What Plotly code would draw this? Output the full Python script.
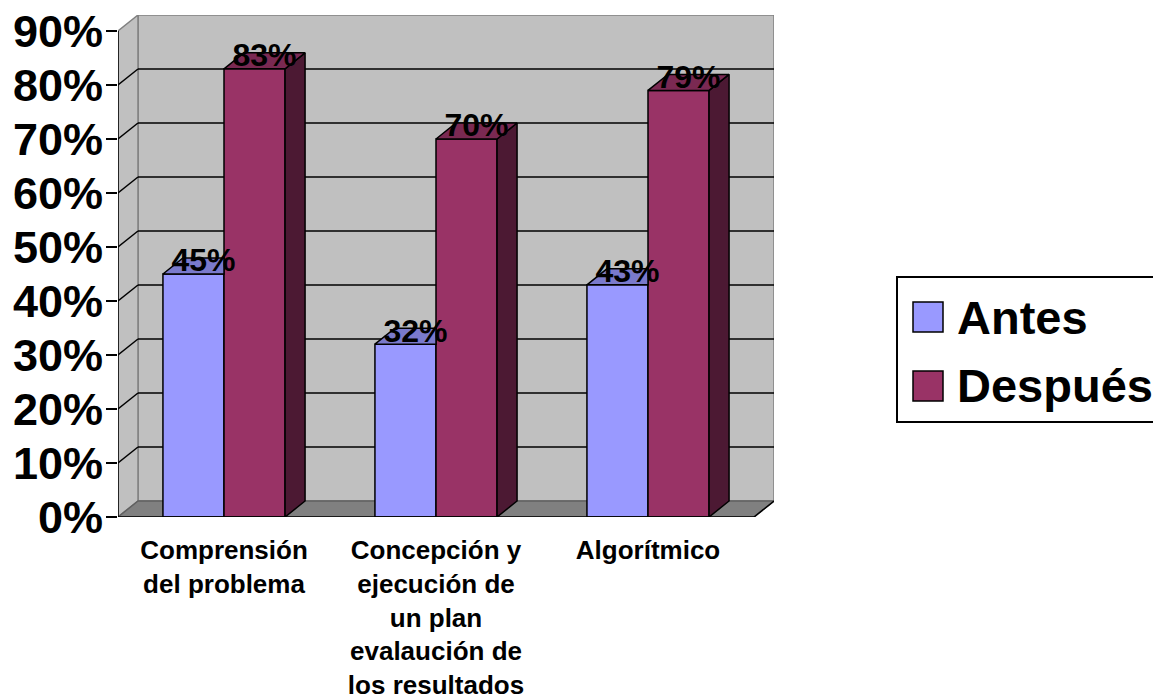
import plotly.graph_objects as go

categories = ["Comprensión<br>del problema",
              "Concepción y<br>ejecución de<br>un plan<br>evalaución de<br>los resultados",
              "Algorítmico"]
antes = [45, 32, 43]
despues = [83, 70, 79]
antes_labels = ["45%", "32%", "43%"]
despues_labels = ["83%", "70%", "79%"]
y_ticks = [0, 10, 20, 30, 40, 50, 60, 70, 80, 90]
y_ticktext = [f"{v}%" for v in y_ticks]

C_ANTES = "#9999FF"
C_ANTES_TOP = "#7A7ACC"
C_DESP = "#993366"
C_DESP_TOP = "#7A2952"
C_DESP_SIDE = "#4C1933"
WALL = "#C0C0C0"
FLOOR = "#808080"
FONT = "Arial, Liberation Sans, sans-serif"

# geometry (pixel layout)
W, H = 1153, 700
PX_CAT = 212.0          # pixels per category
PX_PCT = 5.4            # pixels per percent
DEPTH_X, DEPTH_Y = 20, 16
DX = DEPTH_X / PX_CAT
DY = DEPTH_Y / PX_PCT
YMAX = 90
L = 118
plot_w = (3 + DX) * PX_CAT
plot_h = (YMAX + DY) * PX_PCT
B = 183
R = W - L - plot_w
T = H - B - plot_h

BARGAP = 0.424
BW = (1 - BARGAP) / 2
n = len(categories)
xs = list(range(n))

fig = go.Figure()

fig.add_trace(go.Bar(x=xs, y=antes, name="Antes", marker=dict(color=C_ANTES, line=dict(color="black", width=1.5)),
                     showlegend=False, hoverinfo="skip"))
fig.add_trace(go.Bar(x=xs, y=despues, name="Después", marker=dict(color=C_DESP, line=dict(color="black", width=1.5)),
                     showlegend=False, hoverinfo="skip"))


def poly_trace(polys, color):
    px, py = [], []
    for p in polys:
        for (a, b) in p + [p[0]]:
            px.append(a)
            py.append(b)
        px.append(None)
        py.append(None)
    return go.Scatter(x=px, y=py, mode="lines", fill="toself", fillcolor=color,
                      line=dict(color="black", width=1.5), showlegend=False, hoverinfo="skip")


# Antes tops (clipped where Después bar front occludes)
a_tops = []
for i, v in enumerate(antes):
    x0 = i - BW
    x1 = i
    a_tops.append([(x0, v), (x1, v), (x1, v + DY), (x0 + DX, v + DY)])
fig.add_trace(poly_trace(a_tops, C_ANTES_TOP))

# Después tops & sides
d_tops, d_sides = [], []
for i, v in enumerate(despues):
    x0 = i
    x1 = i + BW
    d_tops.append([(x0, v), (x1, v), (x1 + DX, v + DY), (x0 + DX, v + DY)])
    d_sides.append([(x1, 0), (x1 + DX, DY), (x1 + DX, v + DY), (x1, v)])
fig.add_trace(poly_trace(d_sides, C_DESP_SIDE))
fig.add_trace(poly_trace(d_tops, C_DESP_TOP))

# data labels
lab_font = dict(family=FONT, size=32, color="black", weight="bold")
LAB_DY = DY - 1.0
fig.add_trace(go.Scatter(x=[i - BW / 2 + DX / 2 for i in xs], y=[v + LAB_DY for v in antes],
                         text=antes_labels, mode="text", textposition="middle center",
                         textfont=lab_font, showlegend=False, hoverinfo="skip", cliponaxis=False))
fig.add_trace(go.Scatter(x=[i + BW / 2 + DX / 2 for i in xs], y=[v + LAB_DY for v in despues],
                         text=despues_labels, mode="text", textposition="middle center",
                         textfont=lab_font, showlegend=False, hoverinfo="skip", cliponaxis=False))

shapes = []
xl, xr = -0.5, n - 0.5
# back wall
shapes.append(dict(type="rect", xref="x", yref="y", x0=xl + DX, x1=xr + DX, y0=DY, y1=YMAX + DY,
                   fillcolor=WALL, line=dict(color="#808080", width=1.5), layer="below"))
# left side wall
shapes.append(dict(type="path", xref="x", yref="y",
                   path=f"M{xl},0 L{xl+DX},{DY} L{xl+DX},{YMAX+DY} L{xl},{YMAX} Z",
                   fillcolor=WALL, line=dict(color="#808080", width=1.5), layer="below"))
# floor
shapes.append(dict(type="path", xref="x", yref="y",
                   path=f"M{xl},0 L{xr},0 L{xr+DX},{DY} L{xl+DX},{DY} Z",
                   fillcolor=FLOOR, line=dict(color="#606060", width=1.5), layer="below"))
# gridlines on back wall and side wall
for v in y_ticks[1:-1]:
    shapes.append(dict(type="line", xref="x", yref="y", x0=xl + DX, x1=xr + DX, y0=v + DY, y1=v + DY,
                       line=dict(color="black", width=1.5), layer="below"))
    shapes.append(dict(type="line", xref="x", yref="y", x0=xl, x1=xl + DX, y0=v, y1=v + DY,
                       line=dict(color="black", width=1.5), layer="below"))
# front axes
shapes.append(dict(type="line", xref="x", yref="y", x0=xl, x1=xl, y0=0, y1=YMAX,
                   line=dict(color="black", width=1.5), layer="above"))
shapes.append(dict(type="line", xref="x", yref="y", x0=xl, x1=xr, y0=0, y1=0,
                   line=dict(color="black", width=1.5), layer="above"))
shapes.append(dict(type="line", xref="x", yref="y", x0=xr, x1=xr + DX, y0=0, y1=DY,
                   line=dict(color="black", width=1.5), layer="above"))
# category boundary ticks
for k in range(n + 1):
    shapes.append(dict(type="line", xref="x", yref="y", ysizemode="pixel", yanchor=0,
                       x0=xl + k, x1=xl + k, y0=0, y1=-11,
                       line=dict(color="black", width=1.5), layer="above"))


# legend (manual, paper coords from pixels)
def pxx(p):
    return (p - L) / plot_w


def pxy(p):
    return (H - B - p) / plot_h


shapes.append(dict(type="rect", xref="paper", yref="paper", x0=pxx(897), x1=pxx(1220), y0=pxy(422), y1=pxy(277),
                   fillcolor="white", line=dict(color="black", width=2)))
shapes.append(dict(type="rect", xref="paper", yref="paper", x0=pxx(913), x1=pxx(943), y0=pxy(332), y1=pxy(302),
                   fillcolor=C_ANTES, line=dict(color="black", width=1.5)))
shapes.append(dict(type="rect", xref="paper", yref="paper", x0=pxx(913), x1=pxx(943), y0=pxy(401), y1=pxy(371),
                   fillcolor=C_DESP, line=dict(color="black", width=1.5)))
annotations = [
    dict(xref="paper", yref="paper", x=pxx(955), y=pxy(317), text="<b>Antes</b>", showarrow=False,
         xanchor="left", yanchor="middle", font=dict(family=FONT, size=47, color="black")),
    dict(xref="paper", yref="paper", x=pxx(955), y=pxy(385), text="<b>Después</b>", showarrow=False,
         xanchor="left", yanchor="middle", font=dict(family=FONT, size=47, color="black")),
]

fig.update_layout(
    width=W, height=H,
    margin=dict(l=L, r=R, t=T, b=B, pad=0, autoexpand=False),
    paper_bgcolor="white", plot_bgcolor="white",
    barmode="group", bargap=BARGAP, bargroupgap=0,
    shapes=shapes, annotations=annotations,
    showlegend=False,
    xaxis=dict(range=[xl, xr + DX], tickvals=xs, ticktext=categories, ticks="", automargin=False,
               showgrid=False, zeroline=False, showline=False, ticklabelstandoff=15,
               tickfont=dict(family=FONT, size=26, color="black", weight="bold"), fixedrange=True),
    yaxis=dict(range=[0, YMAX + DY], tickvals=y_ticks, ticktext=y_ticktext, ticks="outside",
               ticklen=11, tickwidth=1.5, tickcolor="black", automargin=False,
               showgrid=False, zeroline=False, showline=False, ticklabelstandoff=-6,
               tickfont=dict(family=FONT, size=45, color="black", weight="bold"), fixedrange=True),
)

fig.write_html("out.html", config={"displayModeBar": False},
               post_script="document.body.style.margin='0';document.body.style.overflow='hidden';")
